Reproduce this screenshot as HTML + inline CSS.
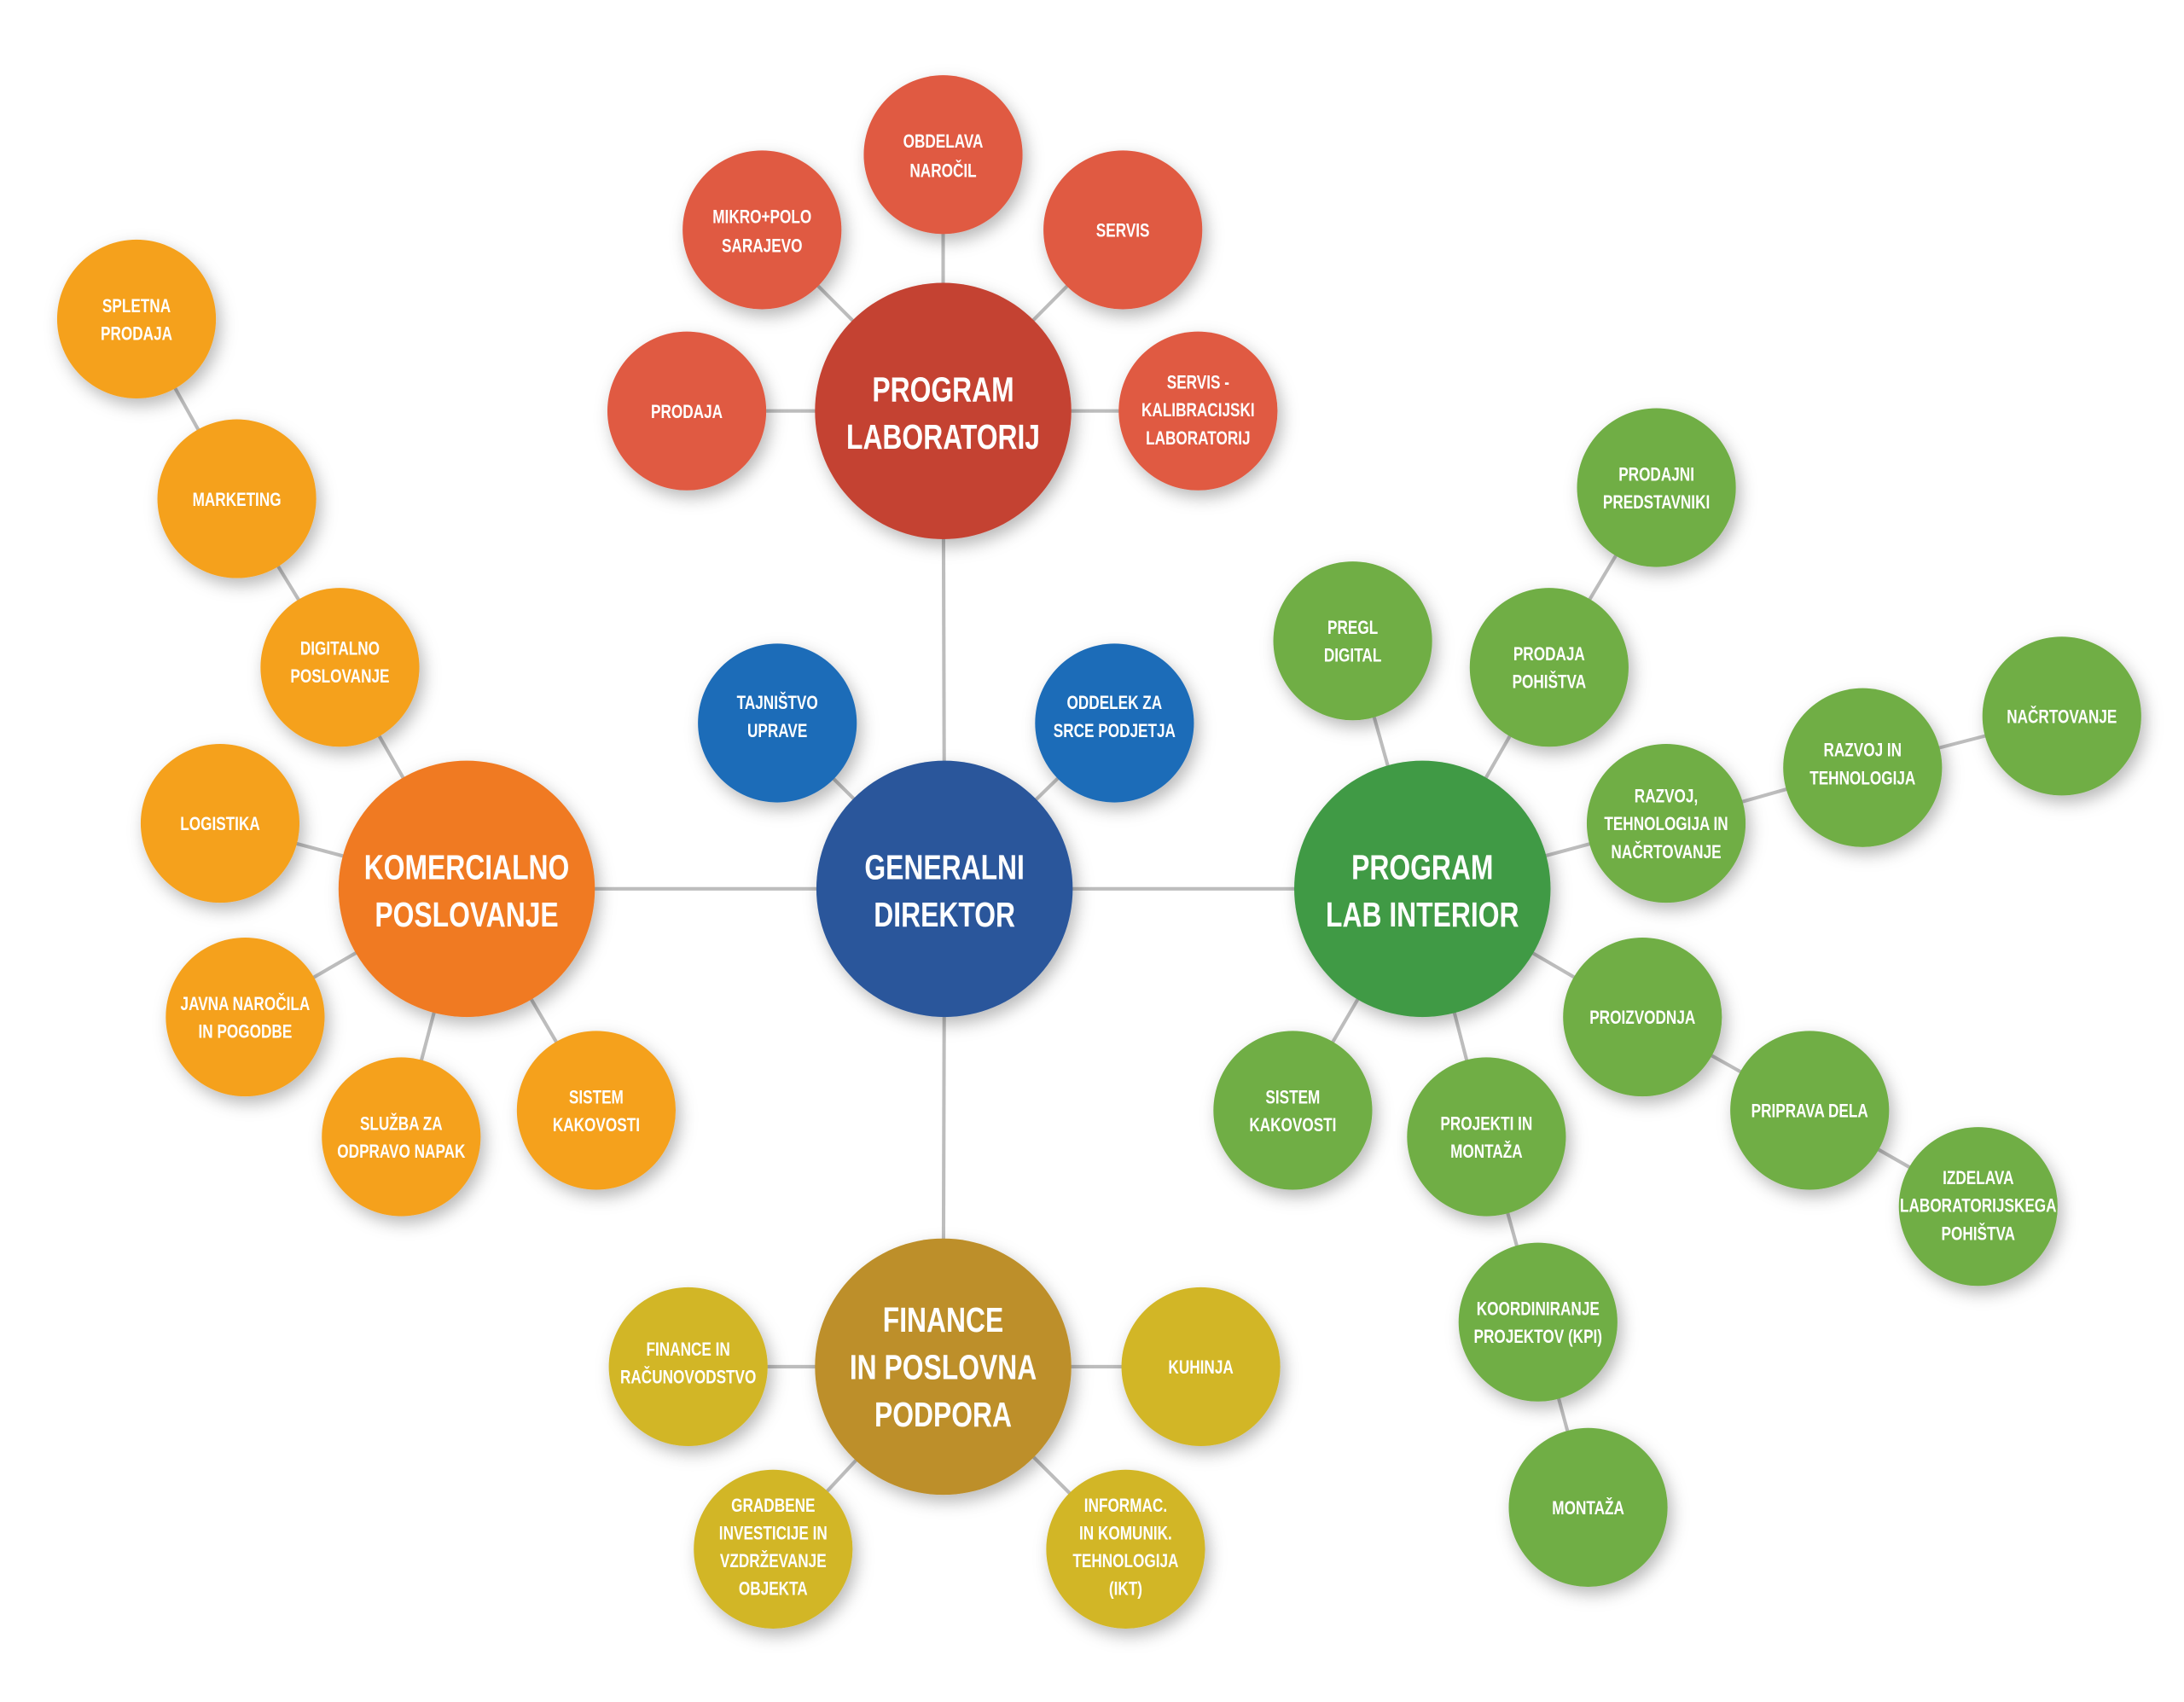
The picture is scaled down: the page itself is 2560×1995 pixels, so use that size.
<!DOCTYPE html>
<html><head><meta charset="utf-8"><style>
html,body{margin:0;padding:0;background:#fff;width:2560px;height:1995px;overflow:hidden}
svg{display:block}
text{font-family:"Liberation Sans Narrow","Liberation Sans",sans-serif;font-weight:bold;fill:#fff;text-anchor:middle;transform-box:fill-box;transform-origin:center;transform:scaleX(0.78)}
.b{font-size:25px}
.s{font-size:13.5px}
</style></head><body>
<svg width="2560" height="1995" viewBox="0 0 1567.7 1221.7" preserveAspectRatio="none" xmlns="http://www.w3.org/2000/svg">
<defs><filter id="sh" x="-30%" y="-30%" width="160%" height="160%"><feDropShadow dx="3" dy="5" stdDeviation="6" flood-color="#000" flood-opacity="0.28"/></filter></defs>
<g stroke="#bdbdbd" stroke-width="2.5" fill="none">
<line x1="678" y1="638" x2="677" y2="295"/><line x1="678" y1="638" x2="335" y2="638"/><line x1="678" y1="638" x2="1021" y2="638"/><line x1="678" y1="638" x2="677" y2="981"/>
<line x1="678" y1="638" x2="558" y2="519"/><line x1="678" y1="638" x2="800" y2="519"/>
<line x1="677" y1="295" x2="677" y2="111"/><line x1="677" y1="295" x2="547" y2="165"/><line x1="677" y1="295" x2="806" y2="165"/><line x1="677" y1="295" x2="493" y2="295"/><line x1="677" y1="295" x2="860" y2="295"/>
<line x1="335" y1="638" x2="158" y2="591"/><line x1="335" y1="638" x2="176" y2="730"/><line x1="335" y1="638" x2="288" y2="816"/><line x1="335" y1="638" x2="428" y2="797"/><line x1="335" y1="638" x2="244" y2="479"/><line x1="244" y1="479" x2="170" y2="358"/><line x1="170" y1="358" x2="98" y2="229"/>
<line x1="1021" y1="638" x2="971" y2="460"/><line x1="1021" y1="638" x2="1112" y2="479"/><line x1="1112" y1="479" x2="1189" y2="350"/><line x1="1021" y1="638" x2="1196" y2="591"/><line x1="1196" y1="591" x2="1337" y2="551"/><line x1="1337" y1="551" x2="1480" y2="514"/><line x1="1021" y1="638" x2="1179" y2="730"/><line x1="1179" y1="730" x2="1299" y2="797"/><line x1="1299" y1="797" x2="1420" y2="866"/><line x1="1021" y1="638" x2="928" y2="797"/><line x1="1021" y1="638" x2="1067" y2="816"/><line x1="1067" y1="816" x2="1104" y2="949"/><line x1="1104" y1="949" x2="1140" y2="1082"/>
<line x1="677" y1="981" x2="494" y2="981"/><line x1="677" y1="981" x2="862" y2="981"/><line x1="677" y1="981" x2="555" y2="1112"/><line x1="677" y1="981" x2="808" y2="1112"/>
</g>
<g filter="url(#sh)">
<circle cx="678" cy="638" r="92" fill="#2b579b"/>
<circle cx="558" cy="519" r="57" fill="#1f6cb8"/><circle cx="800" cy="519" r="57" fill="#1f6cb8"/>
<circle cx="677" cy="295" r="92" fill="#c44333"/>
<circle cx="677" cy="111" r="57" fill="#e05a42"/><circle cx="547" cy="165" r="57" fill="#e05a42"/><circle cx="806" cy="165" r="57" fill="#e05a42"/><circle cx="493" cy="295" r="57" fill="#e05a42"/><circle cx="860" cy="295" r="57" fill="#e05a42"/>
<circle cx="335" cy="638" r="92" fill="#f07a21"/>
<circle cx="158" cy="591" r="57" fill="#f5a11f"/><circle cx="176" cy="730" r="57" fill="#f5a11f"/><circle cx="288" cy="816" r="57" fill="#f5a11f"/><circle cx="428" cy="797" r="57" fill="#f5a11f"/><circle cx="244" cy="479" r="57" fill="#f5a11f"/><circle cx="170" cy="358" r="57" fill="#f5a11f"/><circle cx="98" cy="229" r="57" fill="#f5a11f"/>
<circle cx="1021" cy="638" r="92" fill="#3f9a45"/>
<circle cx="971" cy="460" r="57" fill="#6fae45"/><circle cx="1112" cy="479" r="57" fill="#6fae45"/><circle cx="1189" cy="350" r="57" fill="#6fae45"/><circle cx="1196" cy="591" r="57" fill="#6fae45"/><circle cx="1337" cy="551" r="57" fill="#6fae45"/><circle cx="1480" cy="514" r="57" fill="#6fae45"/><circle cx="1179" cy="730" r="57" fill="#6fae45"/><circle cx="1299" cy="797" r="57" fill="#6fae45"/><circle cx="1420" cy="866" r="57" fill="#6fae45"/><circle cx="928" cy="797" r="57" fill="#6fae45"/><circle cx="1067" cy="816" r="57" fill="#6fae45"/><circle cx="1104" cy="949" r="57" fill="#6fae45"/><circle cx="1140" cy="1082" r="57" fill="#6fae45"/>
<circle cx="677" cy="981" r="92" fill="#bd8f2a"/>
<circle cx="494" cy="981" r="57" fill="#d2b625"/><circle cx="862" cy="981" r="57" fill="#d2b625"/><circle cx="555" cy="1112" r="57" fill="#d2b625"/><circle cx="808" cy="1112" r="57" fill="#d2b625"/>
</g>
<g class="b">
<text x="678" y="631">GENERALNI</text><text x="678" y="665">DIREKTOR</text>
<text x="677" y="288">PROGRAM</text><text x="677" y="322">LABORATORIJ</text>
<text x="335" y="631">KOMERCIALNO</text><text x="335" y="665">POSLOVANJE</text>
<text x="1021" y="631">PROGRAM</text><text x="1021" y="665">LAB INTERIOR</text>
<text x="677" y="956">FINANCE</text><text x="677" y="990">IN POSLOVNA</text><text x="677" y="1024">PODPORA</text>
</g>
<g class="s">
<text x="558" y="509">TAJNIŠTVO</text><text x="558" y="529">UPRAVE</text>
<text x="800" y="509">ODDELEK ZA</text><text x="800" y="529">SRCE PODJETJA</text>
<text x="677" y="106">OBDELAVA</text><text x="677" y="127">NAROČIL</text>
<text x="547" y="160">MIKRO+POLO</text><text x="547" y="181">SARAJEVO</text>
<text x="806" y="170">SERVIS</text>
<text x="493" y="300">PRODAJA</text>
<text x="860" y="279">SERVIS -</text><text x="860" y="299">KALIBRACIJSKI</text><text x="860" y="319">LABORATORIJ</text>
<text x="158" y="596">LOGISTIKA</text>
<text x="176" y="725">JAVNA NAROČILA</text><text x="176" y="745">IN POGODBE</text>
<text x="288" y="811">SLUŽBA ZA</text><text x="288" y="831">ODPRAVO NAPAK</text>
<text x="428" y="792">SISTEM</text><text x="428" y="812">KAKOVOSTI</text>
<text x="244" y="470">DIGITALNO</text><text x="244" y="490">POSLOVANJE</text>
<text x="170" y="363">MARKETING</text>
<text x="98" y="224">SPLETNA</text><text x="98" y="244">PRODAJA</text>
<text x="971" y="455">PREGL</text><text x="971" y="475">DIGITAL</text>
<text x="1112" y="474">PRODAJA</text><text x="1112" y="494">POHIŠTVA</text>
<text x="1189" y="345">PRODAJNI</text><text x="1189" y="365">PREDSTAVNIKI</text>
<text x="1196" y="576">RAZVOJ,</text><text x="1196" y="596">TEHNOLOGIJA IN</text><text x="1196" y="616">NAČRTOVANJE</text>
<text x="1337" y="543">RAZVOJ IN</text><text x="1337" y="563">TEHNOLOGIJA</text>
<text x="1480" y="519">NAČRTOVANJE</text>
<text x="1179" y="735">PROIZVODNJA</text>
<text x="1299" y="802">PRIPRAVA DELA</text>
<text x="1420" y="850">IZDELAVA</text><text x="1420" y="870">LABORATORIJSKEGA</text><text x="1420" y="890">POHIŠTVA</text>
<text x="928" y="792">SISTEM</text><text x="928" y="812">KAKOVOSTI</text>
<text x="1067" y="811">PROJEKTI IN</text><text x="1067" y="831">MONTAŽA</text>
<text x="1104" y="944">KOORDINIRANJE</text><text x="1104" y="964">PROJEKTOV (KPI)</text>
<text x="1140" y="1087">MONTAŽA</text>
<text x="494" y="973">FINANCE IN</text><text x="494" y="993">RAČUNOVODSTVO</text>
<text x="862" y="986">KUHINJA</text>
<text x="555" y="1085">GRADBENE</text><text x="555" y="1105">INVESTICIJE IN</text><text x="555" y="1125">VZDRŽEVANJE</text><text x="555" y="1145">OBJEKTA</text>
<text x="808" y="1085">INFORMAC.</text><text x="808" y="1105">IN KOMUNIK.</text><text x="808" y="1125">TEHNOLOGIJA</text><text x="808" y="1145">(IKT)</text>
</g>
</svg>
</body></html>
